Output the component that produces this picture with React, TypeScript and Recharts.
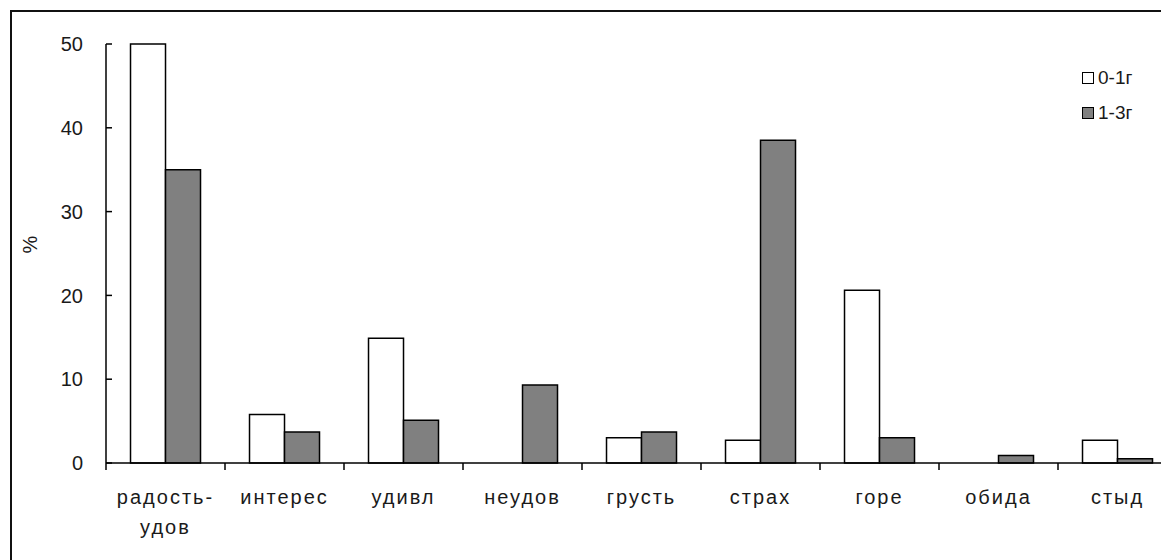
import React from 'react';
import { BarChart, Bar, XAxis, YAxis } from 'recharts';

const categories = ['радость-\nудов', 'интерес', 'удивл', 'неудов', 'грусть', 'страх', 'горе', 'обида', 'стыд'];
const series01 = [50, 5.8, 14.9, 0, 3.0, 2.7, 20.6, 0, 2.7];
const series13 = [35, 3.7, 5.1, 9.3, 3.7, 38.5, 3.0, 0.9, 0.5];
const yTicks = [0, 10, 20, 30, 40, 50];
const seriesNames = ['0-1г', '1-3г'];
const seriesFills = ['#ffffff', '#808080'];

const data = categories.map((c, i) => ({ name: c, a: series01[i], b: series13[i] }));

const FONT = 'Arial, "Liberation Sans", sans-serif';
const TEXT = '#1a1a1a';

const CHART_W = 1180;
const CHART_H = 552;
const M_LEFT = 0;
const Y_W = 98;
const M_RIGHT = 11;
const PLOT_W = CHART_W - M_LEFT - Y_W - M_RIGHT;
const X_MARGIN = 41;

const XTick = (props: any) => {
  const { x, y, payload, index } = props;
  const half = payload && payload.offset ? payload.offset : PLOT_W / categories.length / 2;
  const axisY = y - X_MARGIN;
  const lines = String(payload.value).split('\n');
  return (
    <g>
      <line x1={x - half} x2={x - half} y1={axisY} y2={axisY + 7} stroke="#000" strokeWidth={1.5} />
      {index === categories.length - 1 && (
        <line x1={x + half} x2={x + half} y1={axisY} y2={axisY + 7} stroke="#000" strokeWidth={1.5} />
      )}
      <text x={x} y={y} textAnchor="middle" fontSize={20} fontFamily={FONT} fill={TEXT} letterSpacing={2}>
        {lines.map((l, i) => (
          <tspan key={i} x={x} dy={i === 0 ? 0 : 30}>{l}</tspan>
        ))}
      </text>
    </g>
  );
};

const LegendBox = () => (
  <div style={{ position: 'absolute', left: 1074, top: 52, fontFamily: FONT, fontSize: 19, color: TEXT }}>
    {seriesNames.map((n, i) => (
      <div key={n} style={{ display: 'flex', alignItems: 'center', height: 35 }}>
        <span style={{ display: 'inline-block', width: 10, height: 10, border: '1.5px solid #000', background: seriesFills[i], marginRight: 4 }} />
        <span>{n}</span>
      </div>
    ))}
  </div>
);

export default function App() {
  return (
    <div style={{ position: 'relative', width: 1161, height: 552, overflow: 'hidden', background: '#fff' }}>
      <div style={{ position: 'absolute', left: 2, top: 2, width: 2000, height: 1000, border: '2px solid #111', boxSizing: 'border-box' }} />
      <div style={{ position: 'absolute', left: 0, top: 0 }}>
        <BarChart
          width={CHART_W}
          height={CHART_H}
          data={data}
          margin={{ top: 36, right: M_RIGHT, left: M_LEFT, bottom: 0 }}
          barCategoryGap="20.6%"
          barGap={0}
        >
          <XAxis
            dataKey="name"
            height={97}
            axisLine={{ stroke: '#000', strokeWidth: 1.5 }}
            tickLine={false}
            tickSize={0}
            tickMargin={X_MARGIN}
            interval={0}
            tick={<XTick />}
          />
          <YAxis
            width={Y_W}
            domain={[0, 50]}
            ticks={yTicks}
            axisLine={{ stroke: '#000', strokeWidth: 1.5 }}
            tickLine={{ stroke: '#000', strokeWidth: 1.5 }}
            tickSize={-6}
            tickMargin={29}
            tick={{ fontSize: 20, fontFamily: FONT, fill: TEXT }}
            label={{ value: '%', angle: -90, position: 'insideLeft', offset: 22, style: { fontSize: 20, fontFamily: FONT, fill: TEXT } }}
          />
          <Bar dataKey="a" name={seriesNames[0]} fill={seriesFills[0]} stroke="#000" strokeWidth={1.5} isAnimationActive={false} />
          <Bar dataKey="b" name={seriesNames[1]} fill={seriesFills[1]} stroke="#000" strokeWidth={1.5} isAnimationActive={false} />
        </BarChart>
      </div>
      <LegendBox />
    </div>
  );
}
